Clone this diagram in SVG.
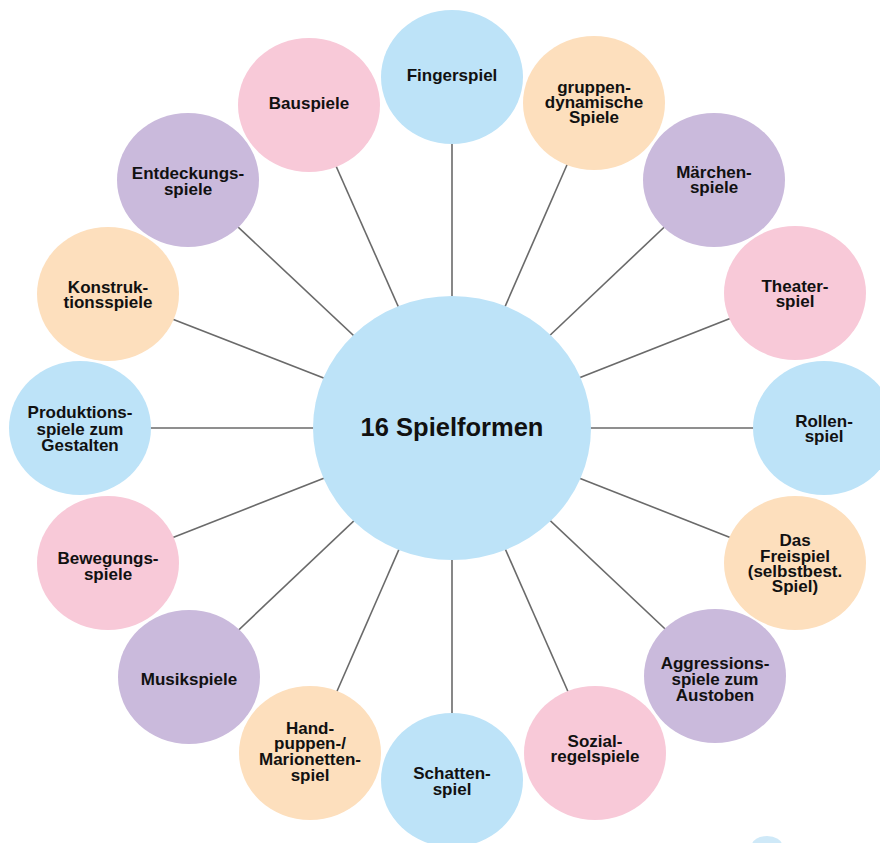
<svg xmlns="http://www.w3.org/2000/svg" width="880" height="843" viewBox="0 0 880 843">
  <style>
    .blue { fill: #bde3f8; }
    .peach { fill: #fddfbd; }
    .purple { fill: #cabadc; }
    .pink { fill: #f8c9d8; }
    .spoke { stroke: #6a6a6a; stroke-width: 1.6; fill: none; }
    text { font-family: "Liberation Sans", Arial, Helvetica, sans-serif; font-weight: bold; fill: #111; text-anchor: middle; }
    .lbl { font-size: 17px; }
    .hub { font-size: 25.5px; }
  </style>
  <rect width="880" height="843" fill="#ffffff"/>
  <!-- small cut-off blob at the lower edge -->
  <ellipse cx="767" cy="845" rx="15" ry="9" fill="#cfe9f8"/>

  <!-- spokes from hub to every outer bubble -->
  <g id="connectors" class="spoke">
    <line x1="452" y1="428" x2="452" y2="77"/>
    <line x1="452" y1="428" x2="594" y2="103"/>
    <line x1="452" y1="428" x2="714" y2="180"/>
    <line x1="452" y1="428" x2="795" y2="293"/>
    <line x1="452" y1="428" x2="824" y2="428"/>
    <line x1="452" y1="428" x2="795" y2="563"/>
    <line x1="452" y1="428" x2="715" y2="676"/>
    <line x1="452" y1="428" x2="595" y2="753"/>
    <line x1="452" y1="428" x2="452" y2="780"/>
    <line x1="452" y1="428" x2="310" y2="753"/>
    <line x1="452" y1="428" x2="189" y2="677"/>
    <line x1="452" y1="428" x2="108" y2="563"/>
    <line x1="452" y1="428" x2="80" y2="428"/>
    <line x1="452" y1="428" x2="108" y2="294"/>
    <line x1="452" y1="428" x2="188" y2="180"/>
    <line x1="452" y1="428" x2="309" y2="105"/>
  </g>

  <g id="hub">
    <ellipse class="blue" cx="452" cy="428" rx="139" ry="132"/>
    <text class="hub" x="452" y="436">16 Spielformen</text>
  </g>

  <g id="fingerspiel">
    <ellipse class="blue" cx="452" cy="77" rx="71" ry="67"/>
    <text class="lbl" x="452" y="81">Fingerspiel</text>
  </g>
  <g id="gruppendynamische-spiele">
    <ellipse class="peach" cx="594" cy="103" rx="71" ry="67"/>
    <text class="lbl" x="594" y="93">gruppen-</text>
    <text class="lbl" x="594" y="108">dynamische</text>
    <text class="lbl" x="594" y="123">Spiele</text>
  </g>
  <g id="maerchenspiele">
    <ellipse class="purple" cx="714" cy="180" rx="71" ry="67"/>
    <text class="lbl" x="714" y="178">Märchen-</text>
    <text class="lbl" x="714" y="193">spiele</text>
  </g>
  <g id="theaterspiel">
    <ellipse class="pink" cx="795" cy="293" rx="71" ry="67"/>
    <text class="lbl" x="795" y="292">Theater-</text>
    <text class="lbl" x="795" y="307">spiel</text>
  </g>
  <g id="rollenspiel">
    <ellipse class="blue" cx="824" cy="428" rx="71" ry="67"/>
    <text class="lbl" x="824" y="427">Rollen-</text>
    <text class="lbl" x="824" y="442">spiel</text>
  </g>
  <g id="freispiel">
    <ellipse class="peach" cx="795" cy="563" rx="71" ry="67"/>
    <text class="lbl" x="795" y="546">Das</text>
    <text class="lbl" x="795" y="562">Freispiel</text>
    <text class="lbl" x="795" y="577">(selbstbest.</text>
    <text class="lbl" x="795" y="592">Spiel)</text>
  </g>
  <g id="aggressionsspiele">
    <ellipse class="purple" cx="715" cy="676" rx="71" ry="67"/>
    <text class="lbl" x="715" y="669">Aggressions-</text>
    <text class="lbl" x="715" y="685">spiele zum</text>
    <text class="lbl" x="715" y="701">Austoben</text>
  </g>
  <g id="sozialregelspiele">
    <ellipse class="pink" cx="595" cy="753" rx="71" ry="67"/>
    <text class="lbl" x="595" y="747">Sozial-</text>
    <text class="lbl" x="595" y="762">regelspiele</text>
  </g>
  <g id="schattenspiel">
    <ellipse class="blue" cx="452" cy="780" rx="71" ry="67"/>
    <text class="lbl" x="452" y="779">Schatten-</text>
    <text class="lbl" x="452" y="795">spiel</text>
  </g>
  <g id="handpuppenspiel">
    <ellipse class="peach" cx="310" cy="753" rx="71" ry="67"/>
    <text class="lbl" x="310" y="734">Hand-</text>
    <text class="lbl" x="310" y="749">puppen-/</text>
    <text class="lbl" x="310" y="765">Marionetten-</text>
    <text class="lbl" x="310" y="781">spiel</text>
  </g>
  <g id="musikspiele">
    <ellipse class="purple" cx="189" cy="677" rx="71" ry="67"/>
    <text class="lbl" x="189" y="685">Musikspiele</text>
  </g>
  <g id="bewegungsspiele">
    <ellipse class="pink" cx="108" cy="563" rx="71" ry="67"/>
    <text class="lbl" x="108" y="564">Bewegungs-</text>
    <text class="lbl" x="108" y="580">spiele</text>
  </g>
  <g id="produktionsspiele">
    <ellipse class="blue" cx="80" cy="428" rx="71" ry="67"/>
    <text class="lbl" x="80" y="418">Produktions-</text>
    <text class="lbl" x="80" y="435">spiele zum</text>
    <text class="lbl" x="80" y="451">Gestalten</text>
  </g>
  <g id="konstruktionsspiele">
    <ellipse class="peach" cx="108" cy="294" rx="71" ry="67"/>
    <text class="lbl" x="108" y="293">Konstruk-</text>
    <text class="lbl" x="108" y="308">tionsspiele</text>
  </g>
  <g id="entdeckungsspiele">
    <ellipse class="purple" cx="188" cy="180" rx="71" ry="67"/>
    <text class="lbl" x="188" y="179">Entdeckungs-</text>
    <text class="lbl" x="188" y="195">spiele</text>
  </g>
  <g id="bauspiele">
    <ellipse class="pink" cx="309" cy="105" rx="71" ry="67"/>
    <text class="lbl" x="309" y="109">Bauspiele</text>
  </g>
</svg>
